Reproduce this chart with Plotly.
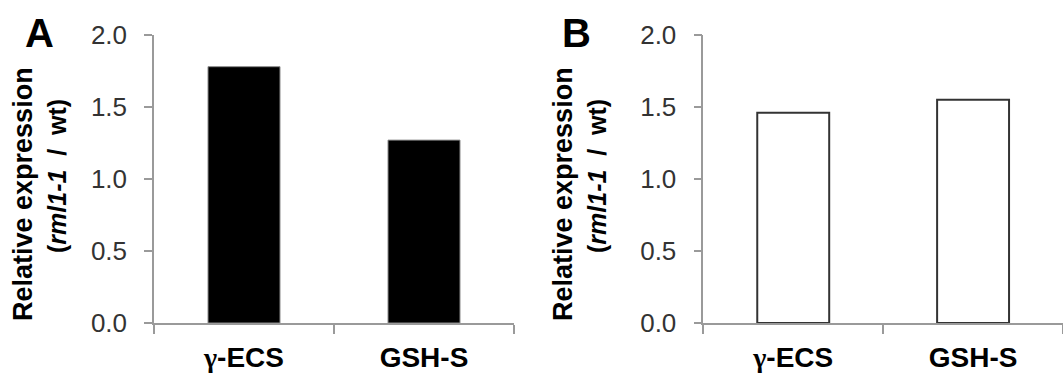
import plotly.graph_objects as go

# Expression data (rml1-1 relative to wild type)
gene_labels = ["<span style=\"font-family:'Liberation Serif', serif\">γ</span>-ECS", "GSH-S"]
expr_a = [1.78, 1.27]
expr_b = [1.46, 1.55]
y_ticks = [0.0, 0.5, 1.0, 1.5, 2.0]

W, H = 1063, 381
TOP, BOTTOM = 35, 58
AXIS_GREY = "#9a9a9a"
TEXT_DARK = "#333333"
FONT = "Liberation Sans, Arial, sans-serif"

fig = go.Figure()

fig.add_trace(go.Bar(
    x=gene_labels, y=expr_a, width=0.4,
    marker=dict(color="black", line=dict(color="#8a8a8a", width=1)),
    xaxis="x", yaxis="y", showlegend=False,
))
fig.add_trace(go.Bar(
    x=gene_labels, y=expr_b, width=0.4,
    marker=dict(color="white", line=dict(color="#333333", width=2)),
    xaxis="x2", yaxis="y2", showlegend=False,
))

xaxis_style = dict(
    type="category", range=[-0.5, 1.5], tickson="boundaries",
    showline=True, linecolor=AXIS_GREY, linewidth=1.5,
    ticks="outside", ticklen=9, tickcolor=AXIS_GREY, tickwidth=1.5,
    showgrid=False, zeroline=False,
    tickfont=dict(family=FONT, size=28, color="black", weight="bold"),
    ticklabelstandoff=9,
)
yaxis_style = dict(
    range=[0, 2], tickvals=y_ticks, tickformat=".1f",
    showline=True, linecolor=AXIS_GREY, linewidth=1.5,
    ticks="outside", ticklen=8, tickcolor=AXIS_GREY, tickwidth=1.5,
    showgrid=False, zeroline=False,
    tickfont=dict(family=FONT, size=26, color=TEXT_DARK),
    ticklabelstandoff=12,
)

fig.update_layout(
    width=W, height=H,
    margin=dict(l=0, r=0, t=TOP, b=BOTTOM),
    paper_bgcolor="white", plot_bgcolor="white",
    xaxis=dict(domain=[154 / W, 514 / W], anchor="y", **xaxis_style),
    yaxis=dict(domain=[0, 1], anchor="x", **yaxis_style),
    xaxis2=dict(domain=[703.3 / W, 1.0], anchor="y2", **xaxis_style),
    yaxis2=dict(domain=[0, 1], anchor="x2", **yaxis_style),
)


def page_y(py):
    """Convert a page pixel row into paper y (paper spans the plot area)."""
    return 1 - (py - TOP) / (H - TOP - BOTTOM)


# Panel letters and rotated y-axis titles
annotations = []
for letter, lx, t1x, t2x in [("A", 39, 23, 57), ("B", 576, 563, 597)]:
    annotations.append(dict(
        text=f"<b>{letter}</b>", x=lx / W, y=page_y(33),
        xref="paper", yref="paper", xanchor="center", yanchor="middle",
        showarrow=False, font=dict(family=FONT, size=40, color="black"),
    ))
    annotations.append(dict(
        text="<b>Relative expression</b>", x=t1x / W, y=page_y(194),
        xref="paper", yref="paper", xanchor="center", yanchor="middle",
        textangle=-90, showarrow=False,
        font=dict(family=FONT, size=27, color="black"),
    ))
    annotations.append(dict(
        text="<b>(<i>rml1-1</i>\u00a0\u00a0/\u00a0\u00a0wt)</b>", x=t2x / W, y=page_y(176),
        xref="paper", yref="paper", xanchor="center", yanchor="middle",
        textangle=-90, showarrow=False,
        font=dict(family=FONT, size=25, color="black"),
    ))

fig.update_layout(annotations=annotations)

fig.write_html("out.html")
